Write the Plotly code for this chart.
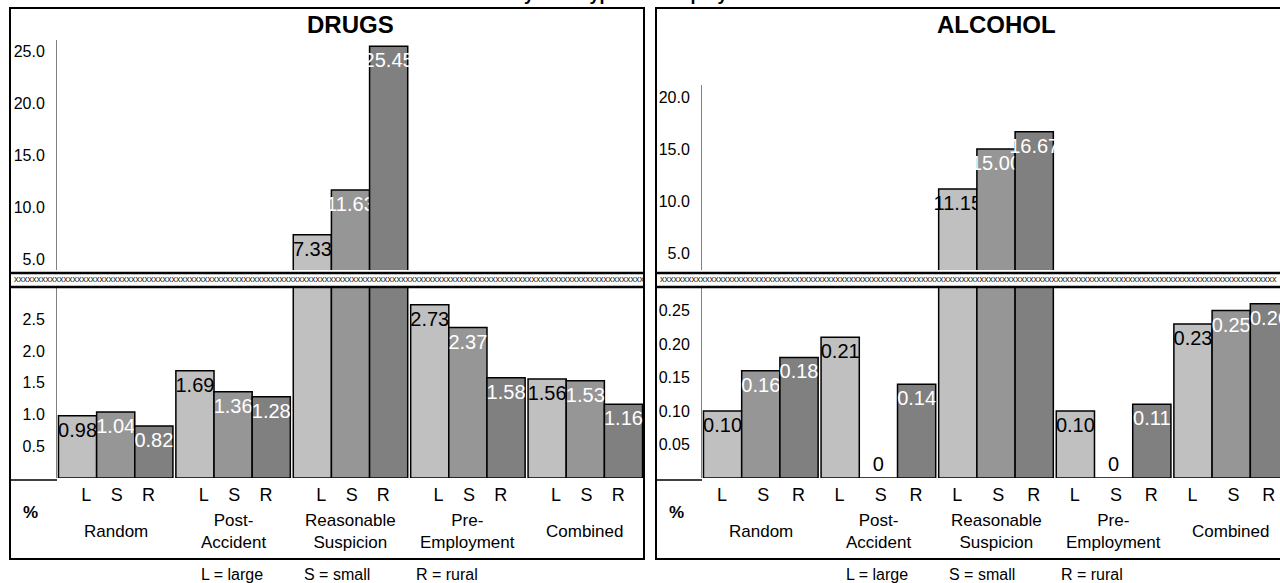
import plotly.graph_objects as go

W, H = 1280, 583

# ---------------- data ----------------
groups = ["Random", "Post-Accident", "Reasonable Suspicion", "Pre-Employment", "Combined"]
group_labels = ["Random", "Post-<br>Accident", "Reasonable<br>Suspicion", "Pre-<br>Employment", "Combined"]
sizes = ["L", "S", "R"]
size_names = ["large", "small", "rural"]

drugs_L = [0.98, 1.69, 7.33, 2.73, 1.56]
drugs_S = [1.04, 1.36, 11.63, 2.37, 1.53]
drugs_R = [0.82, 1.28, 25.45, 1.58, 1.16]

alc_L = [0.10, 0.21, 11.15, 0.10, 0.23]
alc_S = [0.16, 0.00, 15.00, 0.00, 0.25]
alc_R = [0.18, 0.14, 16.67, 0.11, 0.26]

drug_upper_ticks = [5, 10, 15, 20, 25]
drug_lower_ticks = [0.5, 1.0, 1.5, 2.0, 2.5]
alc_upper_ticks = [5, 10, 15, 20]
alc_lower_ticks = [0.05, 0.10, 0.15, 0.20, 0.25]

# ---------------- style ----------------
bar_colors = ["#c0c0c0", "#969696", "#808080"]
inside_text_colors = ["black", "white", "white"]
NARROW = "Liberation Sans Narrow, Arial Narrow, Liberation Sans, Arial"
SANS = "Liberation Sans, Arial"
BARGAP = 0.025


def px(x):
    return x / W


def py(y):
    return 1 - y / H


# panel geometry (pixels)
panels = [
    dict(name="DRUGS", series=[drugs_L, drugs_S, drugs_R],
         box=(10, 644), plot=(57, 644), group_px=117.4,
         upper_top=40, upper_zero=311, upper_scale=10.4, upper_ticks=drug_upper_ticks, upper_fmt=".1f",
         lower_scale=63.5, lower_ticks=drug_lower_ticks, lower_fmt=".1f", dec=2,
         lsr_off=[-0.25, 0.01, 0.28],
         ax=dict(lx="x", ly="y", ux="x2", uy="y2", tx="x3")),
    dict(name="ALCOHOL", series=[alc_L, alc_S, alc_R],
         box=(656, 1300), plot=(702, 1290), group_px=117.6,
         upper_top=85, upper_zero=305, upper_scale=10.4, upper_ticks=alc_upper_ticks, upper_fmt=".1f",
         lower_scale=670.0, lower_ticks=alc_lower_ticks, lower_fmt=".2f", dec=2,
         lsr_off=[-0.33, 0.02, 0.32],
         ax=dict(lx="x4", ly="y3", ux="x5", uy="y4", tx="x6")),
]

BAND_TOP, BAND_BOT = 273, 287
UPPER_BOTTOM = 270
LOWER_TOP, LOWER_ZERO = 288, 478
BOX_TOP, BOX_BOT = 8, 559

fig = go.Figure()
layout = dict(
    width=W, height=H, margin=dict(l=0, r=0, t=0, b=0),
    paper_bgcolor="white", plot_bgcolor="rgba(0,0,0,0)",
    barmode="group", bargap=BARGAP, bargroupgap=0,
    showlegend=False, font=dict(family=SANS, color="black"),
)
shapes, annotations = [], []


def axname(a):
    return "xaxis" if a == "x" else "xaxis" + a[1:]


def yname(a):
    return "yaxis" if a == "y" else "yaxis" + a[1:]


def fmt(v, dec):
    return "0" if v == 0 else f"{v:.{dec}f}"


for p in panels:
    a = p["ax"]
    x0p, x1p = p["plot"]
    x1_vis = min(x1p, W)
    xr = [-0.5, -0.5 + (x1_vis - x0p) / p["group_px"]]
    dom = [px(x0p), px(x1_vis)]

    lower_max = (LOWER_ZERO - LOWER_TOP) / p["lower_scale"]
    upper_min = (p["upper_zero"] - UPPER_BOTTOM) / p["upper_scale"]
    upper_max = (p["upper_zero"] - p["upper_top"]) / p["upper_scale"]

    # bars
    for j, vals in enumerate(p["series"]):
        low_text = [fmt(v, p["dec"]) if v <= lower_max else "" for v in vals]
        low_pos = ["outside" if v == 0 else "inside" for v in vals]
        up_text = [fmt(v, p["dec"]) if v > lower_max else "" for v in vals]
        common = dict(
            x=groups, y=vals, name=sizes[j],
            marker=dict(color=bar_colors[j], line=dict(color="black", width=1.5)),
            insidetextanchor="end", textangle=0, constraintext="none",
            insidetextfont=dict(family=NARROW, size=20, color=inside_text_colors[j]),
            outsidetextfont=dict(family=NARROW, size=20, color="black"),
            hoverinfo="skip", cliponaxis=True,
        )
        fig.add_trace(go.Bar(text=low_text, textposition=low_pos,
                             xaxis=a["lx"], yaxis=a["ly"], **common))
        fig.add_trace(go.Bar(text=up_text, textposition="inside",
                             xaxis=a["ux"], yaxis=a["uy"], **common))

    # dummy trace so the L/S/R label axis exists
    fig.add_trace(go.Scatter(x=[], y=[], xaxis=a["tx"], yaxis=a["ly"], hoverinfo="skip"))

    ydom_low = [py(LOWER_ZERO), py(LOWER_TOP)]
    ydom_up = [py(UPPER_BOTTOM), py(p["upper_top"])]

    base_x = dict(domain=dom, range=xr, showticklabels=False, showgrid=False,
                  zeroline=False, showline=False, ticks="", fixedrange=True)
    layout[axname(a["lx"])] = dict(base_x, anchor=a["ly"])
    layout[axname(a["ux"])] = dict(base_x, anchor=a["uy"])

    # L/S/R labels on an overlaid numeric axis
    tickvals, ticktext = [], []
    for g in range(len(groups)):
        for j, s in enumerate(sizes):
            tickvals.append(g + p["lsr_off"][j])
            ticktext.append(s)
    layout[axname(a["tx"])] = dict(
        overlaying=a["lx"], anchor=a["ly"], side="bottom", type="linear",
        range=xr, tickvals=tickvals, ticktext=ticktext, ticks="",
        showgrid=False, zeroline=False, showline=False,
        tickfont=dict(family=SANS, size=18), ticklabelstandoff=4, fixedrange=True)

    base_y = dict(showgrid=False, zeroline=False, showline=True, linecolor="#808080",
                  linewidth=1, ticks="", tickfont=dict(family=SANS, size=16),
                  ticklabelstandoff=8, fixedrange=True)
    layout[yname(a["ly"])] = dict(base_y, domain=ydom_low, range=[0, lower_max],
                                  tickvals=p["lower_ticks"], tickformat=p["lower_fmt"],
                                  anchor=a["lx"])
    layout[yname(a["uy"])] = dict(base_y, domain=ydom_up, range=[upper_min, upper_max],
                                  tickvals=p["upper_ticks"], tickformat=p["upper_fmt"],
                                  anchor=a["ux"])

    # panel frame
    bx0, bx1 = p["box"]
    shapes.append(dict(type="rect", xref="paper", yref="paper",
                       x0=px(bx0), x1=px(bx1), y0=py(BOX_BOT), y1=py(BOX_TOP),
                       line=dict(color="black", width=2), fillcolor="rgba(0,0,0,0)"))
    # axis-break band
    for yb in (BAND_TOP, BAND_BOT):
        shapes.append(dict(type="line", xref="paper", yref="paper",
                           x0=px(bx0), x1=px(bx1), y0=py(yb), y1=py(yb),
                           line=dict(color="black", width=2.5)))
    n_x = int((min(bx1, W) - bx0 - 4) / 4.5)
    annotations.append(dict(text="x" * n_x, xref="paper", yref="paper",
                            x=px(bx0 + 2), y=py((BAND_TOP + BAND_BOT) / 2 - 1),
                            xanchor="left", yanchor="middle", showarrow=False,
                            font=dict(family=SANS, size=9, color="#222222")))
    # base stub from frame to axis
    shapes.append(dict(type="line", xref="paper", yref="paper",
                       x0=px(bx0), x1=px(x0p), y0=py(LOWER_ZERO + 2), y1=py(LOWER_ZERO + 2),
                       line=dict(color="black", width=1.5)))

    # panel title
    annotations.append(dict(text="<b>%s</b>" % p["name"], xref="paper", yref="paper",
                            x=px((x0p + x1p) / 2), y=py(25), xanchor="center", yanchor="middle",
                            showarrow=False, font=dict(family=SANS, size=24)))
    # group labels
    for g, lab in zip(groups, group_labels):
        annotations.append(dict(text=lab, xref=a["lx"], yref="paper", x=g, y=py(531),
                                xanchor="center", yanchor="middle", showarrow=False,
                                font=dict(family=SANS, size=17)))
    # % label
    annotations.append(dict(text="<b>%</b>", xref="paper", yref="paper",
                            x=px(bx0 + 20), y=py(512), xanchor="center", yanchor="middle",
                            showarrow=False, font=dict(family=SANS, size=17)))
    # key below the panel
    key_x = [x0p + 175, x0p + 280, x0p + 390]
    for kx, s, n in zip(key_x, sizes, size_names):
        annotations.append(dict(text=f"{s} = {n}", xref="paper", yref="paper",
                                x=px(kx), y=py(574), xanchor="center", yanchor="middle",
                                showarrow=False, font=dict(family=SANS, size=16)))

# main title, mostly cut off at the top edge of the page
annotations.append(dict(text="<b>Positive Rates by Test Type and Employer</b>", xref="paper", yref="paper",
                        x=px(746), y=py(6), xanchor="right", yanchor="bottom", showarrow=False,
                        font=dict(family=SANS, size=18)))

layout["shapes"] = shapes
layout["annotations"] = annotations
fig.update_layout(**layout)
fig.write_html("out.html")
